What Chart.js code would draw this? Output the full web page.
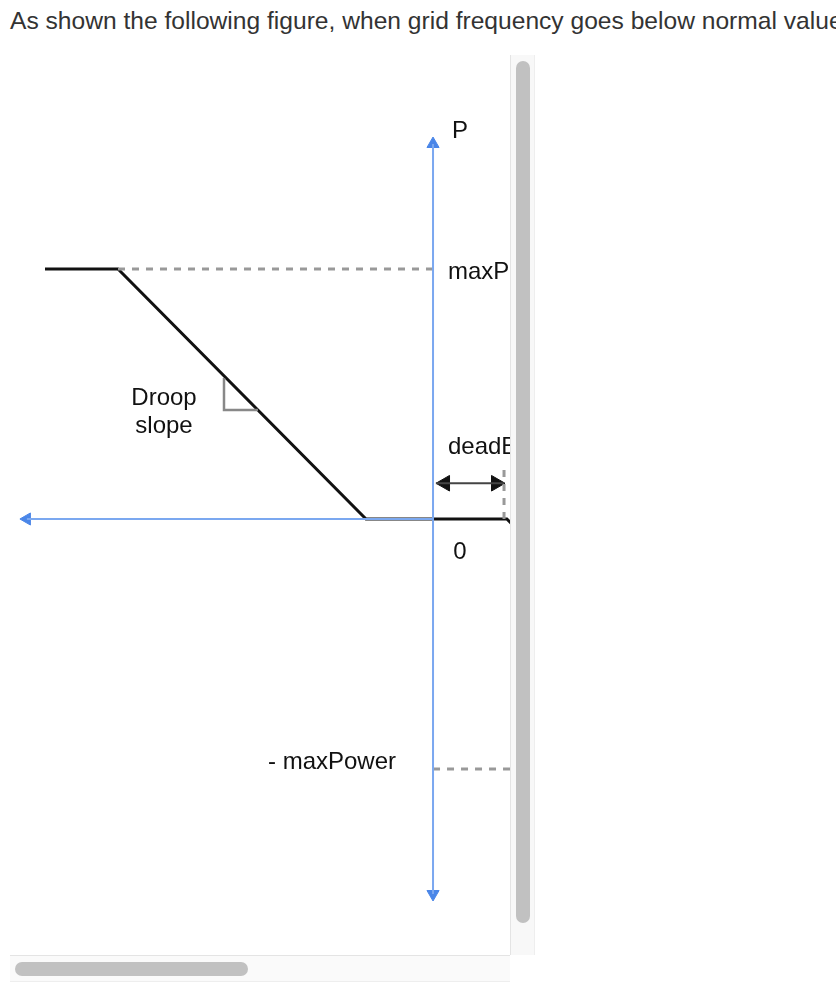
<!DOCTYPE html>
<html>
<head>
<meta charset="utf-8">
<script src="https://cdn.jsdelivr.net/npm/chart.js@4"></script>
<style>
    body { margin: 0; background: #fff; overflow: hidden; font-family: "Liberation Sans", Arial, sans-serif; }
    .title { position: absolute; left: 10px; top: 7px; font-size: 24.6px; color: #333; white-space: nowrap; }
    .box { position: absolute; left: 10px; top: 55px; width: 500px; height: 900px; overflow: hidden; }
    .chart-wrap { position: absolute; left: 0; top: 0; width: 700px; height: 900px; }
    .vtrack { position: absolute; left: 510px; top: 55px; width: 25px; height: 900px; background: #f8f8f8;
              border-left: 1px solid #e4e4e4; border-right: 1px solid #eee; box-sizing: border-box; }
    .vthumb { position: absolute; left: 5px; top: 6px; width: 14px; height: 862px; border-radius: 7px; background: #c1c1c1; }
    .htrack { position: absolute; left: 10px; top: 955px; width: 500px; height: 27px; background: #fafafa;
              border-top: 1px solid #e4e4e4; border-bottom: 1px solid #eee; box-sizing: border-box; }
    .hthumb { position: absolute; left: 5px; top: 6px; width: 233px; height: 14px; border-radius: 7px; background: #c1c1c1; }
</style>
</head>
<body>
<div class="title">As shown the following figure, when grid frequency goes below normal value, the inverter increases its output power</div>
<div class="box">
    <div class="chart-wrap"><canvas id="droopChart"></canvas></div>
</div>
<div class="vtrack"><div class="vthumb"></div></div>
<div class="htrack"><div class="hthumb"></div></div>
<script>
// x: frequency offset (deadband units), P: power (maxPower units)
const axisH = { x: [-5.72, 0], p: [0, 0] };
const axisV = { x: [0, 0], p: [1.5, -1.5] };
const droopX = [-5.465, -4.437, -0.944, 1.04, 4.54];
const droopP = [1, 1, 0, 0, -1];
const maxPLineX = [-4.437, 0];
const minMaxPLineX = [0, 1.2];
const deadBandX = 1.0;
const deadBandP = [0, 0.208];
const deadArrowX = [0.04, 1.0];
const deadArrowHeads = [0.169, 0.887];
const deadArrowP = 0.143;
const slopeX = [-2.944, -2.944, -2.466];
const slopeP = [0.564, 0.436, 0.436];

const labelText = ['P', 'maxPower', 'Droop', 'slope', 'deadBand', '0', '- maxPower'];
const labelX = [0.38, 0.21, -3.789, -3.789, 0.21, 0.38, -0.521];
const labelP = [1.552, 0.988, 0.484, 0.372, 0.288, -0.132, -0.972];
const labelAlign = ['center', 'left', 'center', 'center', 'left', 'center', 'right'];

const BLUE = '#7ba8f0';
const BLUE_HEAD = '#4a86e8';
const GREY = '#999';
const BLACK = '#111';

const pts = (xs, ps) => xs.map((x, i) => ({ x: x, y: Array.isArray(ps) ? ps[i] : ps }));

function line(data, color, width, dash) {
    return {
        data: data, showLine: true, borderColor: color, borderWidth: width,
        borderDash: dash || [], pointRadius: 0, pointHoverRadius: 0, fill: false
    };
}

function heads(data, color, radius, rotations) {
    return {
        data: data, showLine: false, pointStyle: 'triangle', pointRadius: radius, pointHoverRadius: radius,
        pointRotation: rotations, backgroundColor: color, borderColor: color, borderWidth: 1
    };
}

const labelPlugin = {
    id: 'labels',
    afterDatasetsDraw(chart) {
        const ctx = chart.ctx;
        const xs = chart.scales.x, ys = chart.scales.y;
        ctx.save();
        ctx.fillStyle = BLACK;
        ctx.font = '24px "Liberation Sans", Arial, sans-serif';
        ctx.textBaseline = 'middle';
        labelText.forEach((t, i) => {
            ctx.textAlign = labelAlign[i];
            ctx.fillText(t, xs.getPixelForValue(labelX[i]), ys.getPixelForValue(labelP[i]));
        });
        ctx.restore();
    }
};

const ctx = document.getElementById('droopChart').getContext('2d');
new Chart(ctx, {
    type: 'scatter',
    data: {
        datasets: [
            line(pts(axisH.x, axisH.p), BLUE, 2),
            line(pts(axisV.x, axisV.p), BLUE, 2),
            heads(pts([axisH.x[0], 0, 0], [0, axisV.p[0], axisV.p[1]]), BLUE_HEAD, 7, [270, 0, 180]),
            line(pts(maxPLineX, 1), GREY, 3, [7, 7]),
            line(pts(minMaxPLineX, -1), GREY, 3, [7, 7]),
            line(pts([deadBandX, deadBandX], deadBandP), GREY, 3, [7, 7]),
            line(pts(slopeX, slopeP), '#888', 2.5),
            line(pts(deadArrowX, deadArrowP), '#444', 2),
            heads(pts(deadArrowHeads, deadArrowP), BLACK, 9, [270, 90]),
            line(pts(droopX, droopP), BLACK, 3)
        ]
    },
    options: {
        responsive: true,
        maintainAspectRatio: false,
        animation: false,
        events: [],
        layout: { padding: 0, autoPadding: false },
        plugins: { legend: { display: false }, tooltip: { enabled: false } },
        scales: {
            x: { type: 'linear', min: -5.958, max: 3.901, display: false },
            y: { type: 'linear', min: -1.744, max: 1.856, display: false }
        }
    },
    plugins: [labelPlugin]
});
</script>
</body>
</html>
